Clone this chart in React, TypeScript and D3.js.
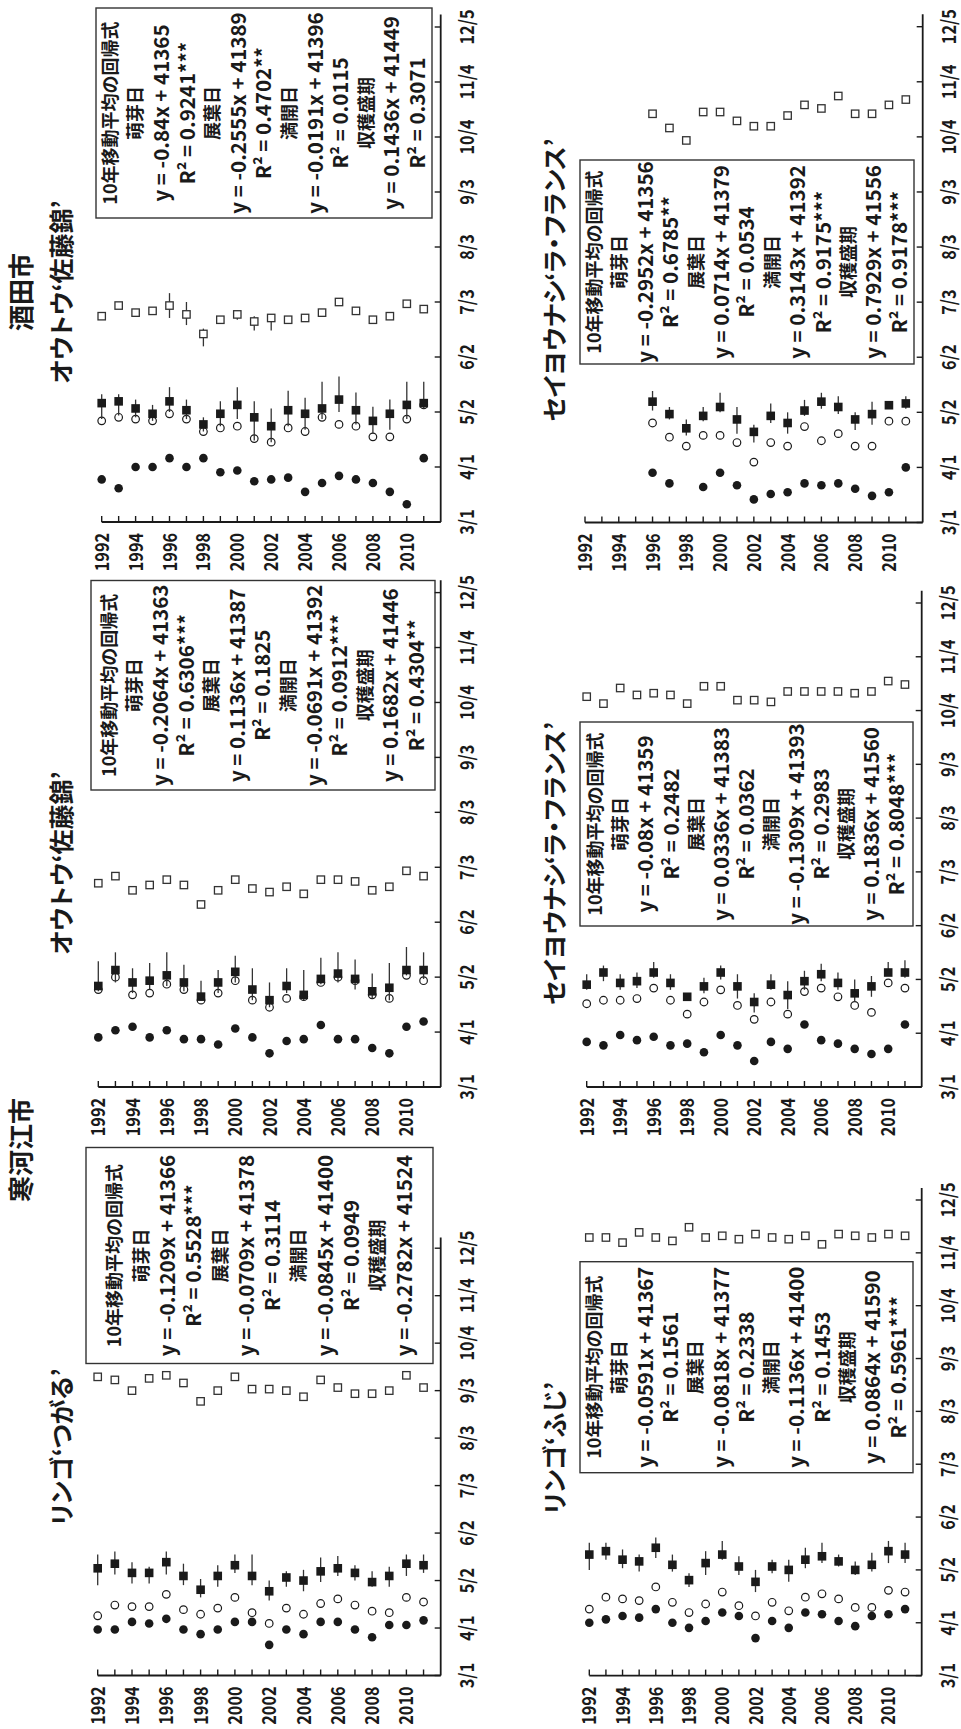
import React from "react";
import * as d3 from "d3";

const W = 961;
const H = 1729;

// ---- axes ----
const years = [1992, 1993, 1994, 1995, 1996, 1997, 1998, 1999, 2000, 2001, 2002, 2003, 2004, 2005, 2006, 2007, 2008, 2009, 2010, 2011];
const yearTickLabels = [1992, 1994, 1996, 1998, 2000, 2002, 2004, 2006, 2008, 2010];
const yearDomain = [1992, 2012];
// Excel date serials (2013): 3/1 = 41334
const dateTicks = [41334, 41365, 41396, 41427, 41458, 41489, 41520, 41551, 41582, 41613];
const dateTickLabels = ["3/1", "4/1", "5/2", "6/2", "7/3", "8/3", "9/3", "10/4", "11/4", "12/5"];
const dateAxisMax = 41620;

// ---- 酒田市 オウトウ‘佐藤錦’ ----
const sakataSatoBud = [41358, 41353, 41365, 41365, 41370, 41365, 41370, 41362, 41363, 41357, 41358, 41359, 41351, 41356, 41360, 41358, 41356, 41351, 41344, 41370];
const sakataSatoLeaf = [41391, 41393, 41392, 41391, 41395, 41392, 41385, 41387, 41388, 41381, 41379, 41387, 41385, 41393, 41389, 41388, 41382, 41382, 41392, 41400];
const sakataSatoBloom = [41401, 41402, 41398, 41395, 41402, 41397, 41389, 41395, 41400, 41393, 41388, 41397, 41395, 41398, 41403, 41397, 41391, 41395, 41400, 41401];
const sakataSatoBloomLo = [41392, 41394, 41393, 41391, 41396, 41392, 41385, 41388, 41392, 41380, 41379, 41388, 41386, 41392, 41396, 41389, 41384, 41386, 41392, 41398];
const sakataSatoBloomHi = [41406, 41406, 41403, 41400, 41410, 41403, 41393, 41402, 41410, 41402, 41398, 41408, 41404, 41413, 41416, 41407, 41399, 41403, 41413, 41413];
const sakataSatoHarvest = [41450, 41456, 41452, 41453, 41456, 41451, 41440, 41448, 41451, 41447, 41449, 41448, 41449, 41452, 41458, 41453, 41448, 41450, 41457, 41454];
const sakataSatoHarvestLo = [null, null, null, null, 41449, 41445, 41433, null, 41448, 41442, 41442, null, null, null, null, null, null, null, null, null];
const sakataSatoHarvestHi = [null, null, null, null, 41463, 41458, 41443, null, 41453, 41450, 41451, null, null, null, null, null, null, null, null, null];
const sakataSatoEq = ["10年移動平均の回帰式", "萌芽日", "y = -0.84x + 41365", "R² = 0.9241***", "展葉日", "y = -0.2555x + 41389", "R² = 0.4702**", "満開日", "y = -0.0191x + 41396", "R² = 0.0115", "収穫盛期", "y = 0.1436x + 41449", "R² = 0.3071"];

// ---- 酒田市 セイヨウナシ‘ラ・フランス’ ----
const sakataPearBud = [null, null, null, null, 41362, 41356, null, 41354, 41362, 41355, 41347, 41350, 41351, 41356, 41355, 41356, 41353, 41349, 41351, 41365];
const sakataPearLeaf = [null, null, null, null, 41390, 41382, 41377, 41383, 41383, 41379, 41368, 41379, 41377, 41388, 41380, 41384, 41377, 41377, 41391, 41391];
const sakataPearBloom = [null, null, null, null, 41402, 41395, 41387, 41394, 41399, 41392, 41385, 41394, 41390, 41397, 41402, 41399, 41392, 41395, 41400, 41401];
const sakataPearBloomLo = [null, null, null, null, 41397, 41392, 41383, 41391, 41396, 41384, 41379, 41390, 41384, 41394, 41398, 41395, 41386, 41389, 41398, 41398];
const sakataPearBloomHi = [null, null, null, null, 41408, 41399, 41392, 41399, 41407, 41399, 41389, 41401, 41396, 41403, 41407, 41405, 41396, 41402, 41402, 41405];
const sakataPearHarvest = [null, null, null, null, 41564, 41556, 41549, 41565, 41565, 41560, 41557, 41557, 41563, 41569, 41567, 41574, 41564, 41564, 41569, 41572];
const sakataPearEq = ["10年移動平均の回帰式", "萌芽日", "y = -0.2952x + 41356", "R² = 0.6785**", "展葉日", "y = 0.0714x + 41379", "R² = 0.0534", "満開日", "y = 0.3143x + 41392", "R² = 0.9175***", "収穫盛期", "y = 0.7929x + 41556", "R² = 0.9178***"];

// ---- 寒河江市 オウトウ‘佐藤錦’ ----
const sagaeSatoBud = [41362, 41366, 41368, 41362, 41366, 41361, 41361, 41358, 41367, 41362, 41353, 41360, 41361, 41369, 41361, 41361, 41356, 41353, 41368, 41371];
const sagaeSatoLeaf = [41389, 41396, 41386, 41387, 41392, 41389, 41383, 41387, 41394, 41383, 41379, 41384, 41385, 41393, 41396, 41394, 41386, 41384, 41397, 41394];
const sagaeSatoBloom = [41391, 41400, 41393, 41394, 41397, 41393, 41385, 41393, 41399, 41389, 41383, 41391, 41386, 41395, 41398, 41395, 41388, 41390, 41400, 41400];
const sagaeSatoBloomLo = [41388, 41393, 41387, 41389, 41391, 41388, 41383, 41387, 41393, 41383, 41379, 41387, 41383, 41392, 41393, 41389, 41384, 41383, 41397, 41395];
const sagaeSatoBloomHi = [41405, 41410, 41401, 41404, 41410, 41403, 41394, 41400, 41408, 41401, 41393, 41401, 41400, 41407, 41410, 41406, 41398, 41404, 41413, 41410];
const sagaeSatoHarvest = [41449, 41453, 41445, 41448, 41451, 41448, 41437, 41445, 41451, 41446, 41444, 41447, 41443, 41451, 41451, 41450, 41445, 41447, 41456, 41453];
const sagaeSatoEq = ["10年移動平均の回帰式", "萌芽日", "y = -0.2064x + 41363", "R² = 0.6306***", "展葉日", "y = 0.1136x + 41387", "R² = 0.1825", "満開日", "y = -0.0691x + 41392", "R² = 0.0912***", "収穫盛期", "y = 0.1682x + 41446", "R² = 0.4304**"];

// ---- 寒河江市 セイヨウナシ‘ラ・フランス’ ----
const sagaePearBud = [41360, 41358, 41364, 41361, 41363, 41358, 41359, 41354, 41364, 41358, 41349, 41360, 41356, 41370, 41361, 41359, 41356, 41353, 41356, 41370];
const sagaePearLeaf = [41382, 41384, 41384, 41385, 41391, 41384, 41376, 41383, 41390, 41381, 41373, 41383, 41376, 41389, 41391, 41386, 41381, 41377, 41394, 41391];
const sagaePearBloom = [41393, 41400, 41394, 41395, 41400, 41394, 41386, 41392, 41400, 41392, 41383, 41393, 41387, 41395, 41399, 41394, 41388, 41392, 41400, 41400];
const sagaePearBloomLo = [41390, 41395, 41390, 41391, 41397, 41390, 41384, 41388, 41396, 41385, 41377, 41390, 41379, 41390, 41395, 41390, 41383, 41386, 41398, 41397];
const sagaePearBloomHi = [41399, 41404, 41399, 41400, 41406, 41399, 41388, 41397, 41404, 41399, 41388, 41399, 41395, 41401, 41405, 41400, 41396, 41398, 41406, 41407];
const sagaePearHarvest = [41559, 41555, 41564, 41560, 41561, 41560, 41555, 41565, 41565, 41557, 41557, 41556, 41562, 41562, 41562, 41562, 41561, 41562, 41568, 41566];
const sagaePearEq = ["10年移動平均の回帰式", "萌芽日", "y = -0.08x + 41359", "R² = 0.2482", "展葉日", "y = 0.0336x + 41383", "R² = 0.0362", "満開日", "y = -0.1309x + 41393", "R² = 0.2983", "収穫盛期", "y = 0.1836x + 41560", "R² = 0.8048***"];

// ---- 寒河江市 リンゴ‘つがる’ ----
const tsugaruBud = [41364, 41364, 41369, 41368, 41371, 41364, 41361, 41364, 41369, 41369, 41354, 41364, 41361, 41369, 41369, 41364, 41359, 41367, 41367, 41370];
const tsugaruLeaf = [41373, 41380, 41379, 41379, 41387, 41377, 41374, 41378, 41385, 41375, 41368, 41378, 41374, 41381, 41384, 41380, 41376, 41375, 41385, 41382];
const tsugaruBloom = [41404, 41407, 41401, 41401, 41408, 41399, 41390, 41399, 41406, 41399, 41389, 41398, 41396, 41402, 41404, 41401, 41395, 41399, 41407, 41406];
const tsugaruBloomLo = [41393, 41400, 41394, 41394, 41400, 41393, 41385, 41392, 41401, 41393, 41383, 41392, 41389, 41395, 41399, 41396, 41392, 41392, 41399, 41401];
const tsugaruBloomHi = [41413, 41415, 41408, 41405, 41415, 41407, 41397, 41406, 41413, 41413, 41396, 41402, 41403, 41411, 41412, 41406, 41402, 41405, 41413, 41413];
const tsugaruHarvest = [41529, 41527, 41520, 41528, 41530, 41525, 41513, 41520, 41529, 41521, 41521, 41520, 41516, 41527, 41522, 41518, 41518, 41520, 41530, 41522];
const tsugaruEq = ["10年移動平均の回帰式", "萌芽日", "y = -0.1209x + 41366", "R² = 0.5528***", "展葉日", "y = -0.0709x + 41378", "R² = 0.3114", "満開日", "y = -0.0845x + 41400", "R² = 0.0949", "収穫盛期", "y = -0.2782x + 41524"];

// ---- 寒河江市 リンゴ‘ふじ’ ----
const fujiBud = [41365, 41367, 41369, 41368, 41373, 41365, 41362, 41366, 41371, 41369, 41356, 41366, 41362, 41371, 41370, 41366, 41363, 41369, 41370, 41373];
const fujiLeaf = [41373, 41380, 41379, 41378, 41386, 41377, 41371, 41376, 41383, 41375, 41369, 41377, 41372, 41380, 41382, 41379, 41374, 41374, 41384, 41383];
const fujiBloom = [41405, 41407, 41402, 41401, 41409, 41399, 41390, 41400, 41405, 41398, 41389, 41398, 41396, 41402, 41404, 41401, 41396, 41399, 41407, 41405];
const fujiBloomLo = [41396, 41402, 41397, 41395, 41403, 41395, 41386, 41393, 41402, 41393, 41383, 41394, 41389, 41397, 41400, 41398, 41393, 41395, 41400, 41400];
const fujiBloomHi = [41412, 41412, 41408, 41405, 41415, 41405, 41394, 41407, 41413, 41404, 41396, 41402, 41402, 41409, 41412, 41405, 41401, 41406, 41413, 41412];
const fujiHarvest = [41591, 41591, 41588, 41594, 41591, 41589, 41597, 41591, 41592, 41590, 41593, 41591, 41590, 41592, 41587, 41593, 41592, 41591, 41593, 41592];
const fujiEq = ["10年移動平均の回帰式", "萌芽日", "y = -0.0591x + 41367", "R² = 0.1561", "展葉日", "y = -0.0818x + 41377", "R² = 0.2338", "満開日", "y = -0.1136x + 41400", "R² = 0.1453", "収穫盛期", "y = 0.0864x + 41590", "R² = 0.5961***"];

const cityTitles = [
  { text: "寒河江市", x: 579, y: 31 },
  { text: "酒田市", x: 1437, y: 31 },
];

type Num = number | null;
interface PanelDef {
  title: string;
  bud: Num[]; leaf: Num[]; bloom: Num[]; bloomLo: Num[]; bloomHi: Num[];
  harvest: Num[]; harvestLo?: Num[]; harvestHi?: Num[];
  eq: string[];
  lay: { x0: number; x1: number; yTop: number; yBot: number; bx: number; by: number; bw: number; bh: number; gap: number; tx: number; ty: number };
}

const panels: PanelDef[] = [
  { title: "リンゴ‘つがる’", bud: tsugaruBud, leaf: tsugaruLeaf, bloom: tsugaruBloom, bloomLo: tsugaruBloomLo, bloomHi: tsugaruBloomHi, harvest: tsugaruHarvest, eq: tsugaruEq,
    lay: { x0: 53.5, x1: 480.8, yTop: 97.7, yBot: 440.7, bx: 365.5, by: 86, bw: 216, bh: 347, gap: 26.3, tx: 282, ty: 71 } },
  { title: "オウトウ‘佐藤錦’", bud: sagaeSatoBud, leaf: sagaeSatoLeaf, bloom: sagaeSatoBloom, bloomLo: sagaeSatoBloomLo, bloomHi: sagaeSatoBloomHi, harvest: sagaeSatoHarvest, eq: sagaeSatoEq,
    lay: { x0: 642, x1: 1136.4, yTop: 98.3, yBot: 440.7, bx: 939, by: 91, bw: 209.5, bh: 344, gap: 25.6, tx: 866, ty: 71 } },
  { title: "オウトウ‘佐藤錦’", bud: sakataSatoBud, leaf: sakataSatoLeaf, bloom: sakataSatoBloom, bloomLo: sakataSatoBloomLo, bloomHi: sakataSatoBloomHi, harvest: sakataSatoHarvest, harvestLo: sakataSatoHarvestLo, harvestHi: sakataSatoHarvestHi, eq: sakataSatoEq,
    lay: { x0: 1207, x1: 1702, yTop: 101.7, yBot: 440.7, bx: 1511, by: 96, bw: 210, bh: 336, gap: 25.6, tx: 1437, ty: 71 } },
  { title: "リンゴ‘ふじ’", bud: fujiBud, leaf: fujiLeaf, bloom: fujiBloom, bloomLo: fujiBloomLo, bloomHi: fujiBloomHi, harvest: fujiHarvest, eq: fujiEq,
    lay: { x0: 53.4, x1: 529, yTop: 589.3, yBot: 921.7, bx: 256.3, by: 580, bw: 211, bh: 333, gap: 25.3, tx: 281, ty: 564 } },
  { title: "セイヨウナシ‘ラ・フランス’", bud: sagaePearBud, leaf: sagaePearLeaf, bloom: sagaePearBloom, bloomLo: sagaePearBloomLo, bloomHi: sagaePearBloomHi, harvest: sagaePearHarvest, eq: sagaePearEq,
    lay: { x0: 642, x1: 1126, yTop: 586.7, yBot: 921.7, bx: 803, by: 580, bw: 204, bh: 333, gap: 25.1, tx: 865.5, ty: 564 } },
  { title: "セイヨウナシ‘ラ・フランス’", bud: sakataPearBud, leaf: sakataPearLeaf, bloom: sakataPearBloom, bloomLo: sakataPearBloomLo, bloomHi: sakataPearBloomHi, harvest: sakataPearHarvest, eq: sakataPearEq,
    lay: { x0: 1206.5, x1: 1702.3, yTop: 585, yBot: 922.7, bx: 1365, by: 580, bw: 204, bh: 334, gap: 25.4, tx: 1449, ty: 564 } },
];

const FONT = '"Noto Sans CJK JP", "Noto Sans", sans-serif';
const INK = "#1a1a1a";
const TICK_FONT = 19.5;
const TICK_SQUEEZE = 0.83;
const BOX_FONT = 20.5;
const BOX_CJK_FONT = 18;
const isCJK = (t: string) => /[\u3040-\u30ff\u4e00-\u9fff]/.test(t);

function Panel({ p }: { p: PanelDef }) {
  const L = p.lay;
  const xs = d3.scaleLinear().domain([dateTicks[0], dateTicks[dateTicks.length - 1]]).range([L.x0, L.x1]);
  const ys = d3.scaleLinear().domain(yearDomain).range([L.yTop, L.yBot]);
  const pts = (arr: Num[]) => years.map((yr, i) => ({ yr, v: arr[i] })).filter((d) => d.v != null) as { yr: number; v: number }[];
  const bars = (lo: Num[], hi: Num[]) => years.map((yr, i) => ({ yr, lo: lo[i], hi: hi[i] })).filter((d) => d.lo != null && d.hi != null) as { yr: number; lo: number; hi: number }[];
  const n = p.eq.length;
  const cyBox = L.by + L.bh / 2;
  return (
    <g>
      <text x={L.tx} y={L.ty} textAnchor="middle" fontSize={25} fontWeight={700} fill={INK} style={{ fontFeatureSettings: '"palt"' }}>{p.title}</text>
      {/* box */}
      <rect x={L.bx} y={L.by} width={L.bw} height={L.bh} fill="#fff" stroke="#333" strokeWidth={1.4} />
      {p.eq.map((t, i) => (
        <text key={i} x={L.bx + L.bw / 2} y={cyBox + (i - (n - 1) / 2) * L.gap} dy="0.36em" textAnchor="middle" fontSize={isCJK(t) ? BOX_CJK_FONT : BOX_FONT} fontWeight={700} fill={INK}>{t}</text>
      ))}
      {/* axes */}
      <line x1={L.x0} x2={L.x0} y1={ys(1992)} y2={L.yBot} stroke={INK} strokeWidth={1.8} />
      <line x1={L.x0} x2={xs(dateAxisMax)} y1={L.yBot} y2={L.yBot} stroke={INK} strokeWidth={1.8} />
      {years.map((yr) => (
        <line key={yr} x1={L.x0} x2={L.x0 + 6} y1={ys(yr)} y2={ys(yr)} stroke={INK} strokeWidth={1.4} />
      ))}
      {yearTickLabels.map((yr) => (
        <text key={yr} transform={`translate(${L.x0 - 11},${ys(yr)}) scale(${TICK_SQUEEZE},1)`} dy="0.36em" textAnchor="end" fontSize={TICK_FONT} fontWeight={700} fill={INK}>{yr}</text>
      ))}
      {dateTicks.map((t, i) => (
        <g key={t}>
          <line x1={xs(t)} x2={xs(t)} y1={L.yBot} y2={L.yBot - 6} stroke={INK} strokeWidth={1.4} />
          <text transform={`translate(${xs(t)},${L.yBot + 33}) scale(${TICK_SQUEEZE},1)`} textAnchor="middle" fontSize={TICK_FONT} fontWeight={700} fill={INK}>{dateTickLabels[i]}</text>
        </g>
      ))}
      {/* leaf (open circle) */}
      {pts(p.leaf).map((d) => (
        <circle key={"l" + d.yr} cx={xs(d.v)} cy={ys(d.yr)} r={3.8} fill="#fff" stroke={INK} strokeWidth={1.2} />
      ))}
      {/* error bars */}
      {bars(p.bloomLo, p.bloomHi).map((d) => (
        <line key={"eb" + d.yr} x1={xs(d.lo)} x2={xs(d.hi)} y1={ys(d.yr)} y2={ys(d.yr)} stroke="#333" strokeWidth={1.3} />
      ))}
      {p.harvestLo && p.harvestHi && bars(p.harvestLo, p.harvestHi).map((d) => (
        <line key={"eh" + d.yr} x1={xs(d.lo)} x2={xs(d.hi)} y1={ys(d.yr)} y2={ys(d.yr)} stroke="#333" strokeWidth={1.3} />
      ))}
      {/* harvest (open square) */}
      {pts(p.harvest).map((d) => (
        <rect key={"h" + d.yr} x={xs(d.v) - 3.7} y={ys(d.yr) - 3.7} width={7.4} height={7.4} fill="#fff" stroke="#333" strokeWidth={1.3} />
      ))}
      {/* bloom (filled square) */}
      {pts(p.bloom).map((d) => (
        <rect key={"b" + d.yr} x={xs(d.v) - 4.3} y={ys(d.yr) - 4.3} width={8.6} height={8.6} fill={INK} />
      ))}
      {/* bud (filled circle) */}
      {pts(p.bud).map((d) => (
        <circle key={"u" + d.yr} cx={xs(d.v)} cy={ys(d.yr)} r={4.3} fill={INK} />
      ))}
    </g>
  );
}

export default function App() {
  return (
    <svg width={W} height={H} viewBox={`0 0 ${W} ${H}`} style={{ position: "absolute", left: 0, top: 0, background: "#fff" }} fontFamily={FONT}>
      <rect width={W} height={H} fill="#fff" />
      <g transform={`translate(0,${H}) rotate(-90)`}>
        {cityTitles.map((c) => (
          <text key={c.text} x={c.x} y={c.y} textAnchor="middle" fontSize={26} fontWeight={700} fill={INK}>{c.text}</text>
        ))}
        {panels.map((p, i) => (
          <Panel key={i} p={p} />
        ))}
      </g>
    </svg>
  );
}
